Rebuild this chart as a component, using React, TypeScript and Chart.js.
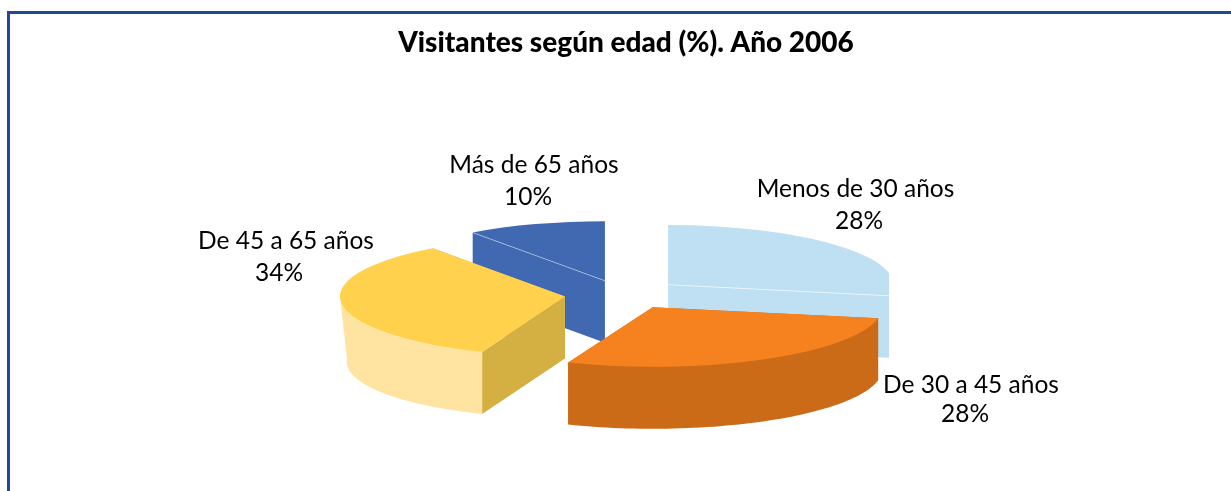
import React, { useEffect, useRef } from "react";
import { Chart, registerables } from "chart.js";

Chart.register(...registerables);

const TITLE = "Visitantes según edad (%). Año 2006";
const categories = ["Menos de 30 años", "De 30 a 45 años", "De 45 a 65 años", "Más de 65 años"];
const values = [28, 28, 34, 10];

const topColors = ["#BFE0F2", "#F6821F", "#FFD14D", "#4169B1"];
const outerWallColors = ["#BFE0F2", "#CC6B17", "#FFE3A1", "#4169B1"];
const cutWallColors = ["#BFE0F2", "#CC6B17", "#D4B042", "#4169B1"];
const seamColors = ["rgba(255,255,255,0.55)", "", "", "rgba(255,255,255,0.4)"];
const drawOrder = [3, 0, 2, 1];
const taper = [0, 0, 7, 0];
const stretchX = [1, 1.02, 1, 1];
const nudgeX = [0, 1.5, 0, 0];
const nudgeY = [-1, -2, -1, 0];

// label line centres, relative to the pie centre: [name dx, name baseline dy, value dx, value baseline dy]
const labelOffsets = [
  [232.5, -99, 236, -67],
  [348, 97, 342, 126],
  [-337, -47, -344, -15],
  [-89, -123, -95, -91],
];

const TILT = 0.265;
const EXPLODE = 58.5;
const DEPTH = 62;
const CENTER_NUDGE = -3;
const FONT = "Lato";

const pie3d = {
  id: "pie3d",
  beforeDatasetsDraw(chart: any) {
    const ctx = chart.ctx;
    const meta = chart.getDatasetMeta(0);
    for (const i of drawOrder) {
      const arc = meta.data[i];
      const { x: ax, y: ay, startAngle: a0, endAngle: a1, outerRadius: r } = arc.getProps(
        ["x", "y", "startAngle", "endAngle", "outerRadius"],
        true
      );
      const x = ax + CENTER_NUDGE + nudgeX[i];
      const y = ay + nudgeY[i];
      const mid = (a0 + a1) / 2;
      const ox = EXPLODE * Math.cos(mid);
      const oy = EXPLODE * Math.sin(mid);
      const sx = stretchX[i];
      const pt = (a: number, rad: number, drop: number) => [
        x + ox + sx * rad * Math.cos(a),
        y + TILT * (oy + rad * Math.sin(a)) + drop,
      ];
      const poly = (pts: number[][], fill: string) => {
        ctx.beginPath();
        pts.forEach((p, n) => (n ? ctx.lineTo(p[0], p[1]) : ctx.moveTo(p[0], p[1])));
        ctx.closePath();
        ctx.fillStyle = fill;
        ctx.fill();
      };
      ctx.save();
      // a slice crossing the rightmost point of the ellipse ends in a straight edge at its corner
      if (a0 < 0 && a1 > 0) {
        ctx.beginPath();
        ctx.rect(0, 0, pt(a1, r, 0)[0], chart.height);
        ctx.clip();
      }
      // radial cut faces
      for (const a of [a0, a1]) {
        poly([pt(a, 0, 0), pt(a, r, 0), pt(a, r, DEPTH), pt(a, 0, DEPTH)], cutWallColors[i]);
      }
      // outer wall, front half only
      const from = Math.max(a0, 0);
      const to = Math.min(a1, Math.PI);
      if (to > from) {
        const upper: number[][] = [];
        const lower: number[][] = [];
        const steps = 60;
        for (let s = 0; s <= steps; s++) {
          const a = from + ((to - from) * s) / steps;
          upper.push(pt(a, r, 0));
          const b = pt(a, r, DEPTH);
          const t = (a - from) / (to - from);
          lower.push([b[0] + taper[i] * t * t, b[1]]);
        }
        poly(upper.concat(lower.reverse()), outerWallColors[i]);
      }
      // top face, drawn by the library's arc element
      ctx.save();
      ctx.translate(x + ox, y + TILT * oy);
      ctx.scale(sx, TILT);
      ctx.translate(-ax, -ay);
      arc.draw(ctx);
      ctx.restore();
      // light seams along cut edges
      if (seamColors[i]) {
        const e = i === 0 ? a1 : a0;
        const p = pt(0, 0, 0);
        const q = pt(e, r, 0);
        ctx.beginPath();
        ctx.moveTo(p[0], p[1]);
        ctx.lineTo(q[0], q[1]);
        ctx.strokeStyle = seamColors[i];
        ctx.lineWidth = 1;
        ctx.stroke();
      }
      ctx.restore();
    }
    return false;
  },
  afterDraw(chart: any) {
    const ctx = chart.ctx;
    const meta = chart.getDatasetMeta(0);
    const { x: ax, y } = meta.data[0].getProps(["x", "y"], true);
    const x = ax + CENTER_NUDGE;
    ctx.save();
    ctx.fillStyle = "#000";
    ctx.textAlign = "center";
    ctx.textBaseline = "alphabetic";
    ctx.font = `24.5px ${FONT}`;
    categories.forEach((c, i) => {
      const o = labelOffsets[i];
      ctx.fillText(c, x + o[0], y + o[1]);
      ctx.fillText(`${values[i]}%`, x + o[2], y + o[3]);
    });
    ctx.restore();
  },
};

export default function App() {
  const ref = useRef<HTMLCanvasElement>(null);
  useEffect(() => {
    const chart = new Chart(ref.current!, {
      type: "pie",
      data: {
        labels: categories,
        datasets: [
          {
            data: values,
            backgroundColor: topColors,
            borderWidth: 0,
            radius: 225,
            offset: 0,
          } as any,
        ],
      },
      options: {
        responsive: false,
        animation: false,
        events: [],
        layout: { padding: { left: 21, right: 0, top: 0, bottom: 0 } },
        plugins: {
          legend: { display: false },
          tooltip: { enabled: false },
          title: {
            display: true,
            text: TITLE,
            color: "#000",
            font: { family: FONT, size: 28, weight: "900" },
            padding: { top: 26.5, bottom: 40 },
          },
        },
      },
      plugins: [pie3d],
    } as any);
    return () => chart.destroy();
  }, []);
  return (
    <div style={{ position: "fixed", inset: 0, overflow: "hidden", background: "#fff" }}>
      <div
        style={{
          position: "absolute",
          left: 7,
          top: 11,
          width: 1400,
          height: 700,
          borderLeft: "3px solid #24469A",
          borderTop: "3px solid #24469A",
        }}
      />
      <canvas ref={ref} width={1231} height={491} style={{ position: "absolute", left: 0, top: 0 }} />
    </div>
  );
}
